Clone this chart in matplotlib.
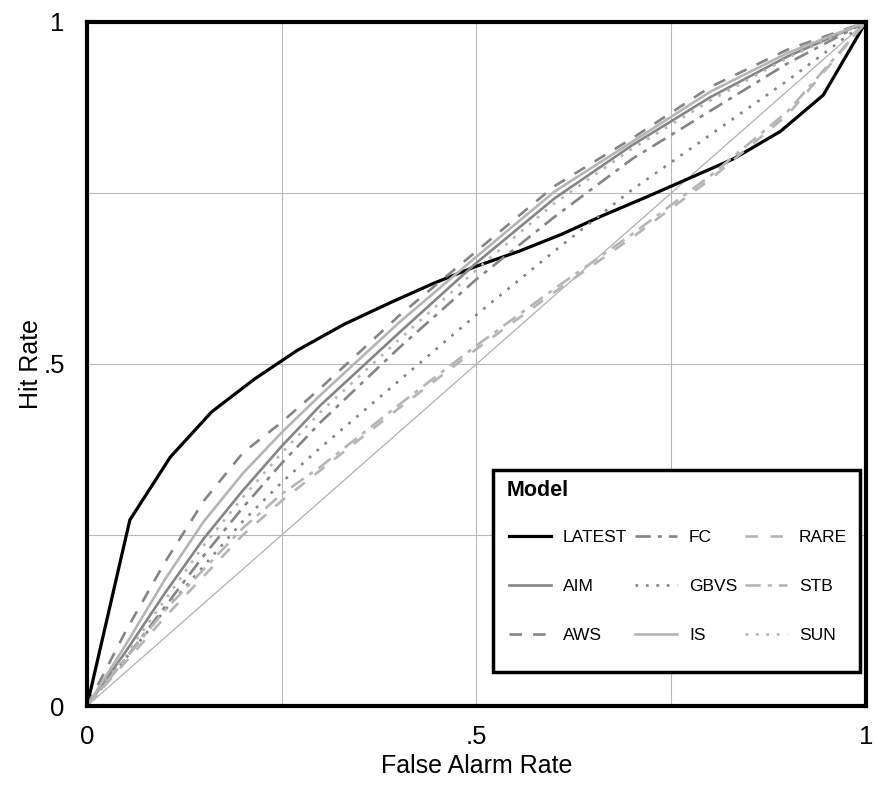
import matplotlib
matplotlib.use("Agg")
import matplotlib.pyplot as plt
from matplotlib.patches import Rectangle

plt.rcParams['font.family'] = ['Liberation Sans', 'DejaVu Sans']
plt.rcParams['lines.scale_dashes'] = False

# ---- data ----
fa_latest = [0, .055, .107, .16, .215, .27, .33, .39, .445, .5, .555, .61, .66, .72, .78, .83, .89, .945, 1]
hit_latest = [0, .272, .364, .43, .478, .52, .558, .59, .618, .643, .665, .69, .716, .745, .775, .80, .84, .893, 1]

fa = [0, .05, .1, .15, .2, .25, .3, .4, .5, .6, .7, .8, .9, 1]
hit_aim = [0, .08, .165, .245, .315, .38, .44, .545, .648, .742, .82, .89, .95, 1]
hit_aws = [0, .11, .21, .30, .37, .415, .465, .57, .665, .76, .83, .905, .96, 1]
hit_fc = [0, .07, .145, .22, .29, .355, .415, .523, .624, .715, .80, .87, .94, 1]
hit_gbvs = [0, .07, .14, .205, .27, .327, .378, .475, .572, .665, .755, .835, .915, 1]
hit_is = [0, .09, .185, .27, .34, .40, .455, .56, .657, .752, .825, .898, .955, 1]
hit_rare = [0, .065, .13, .19, .25, .30, .345, .435, .522, .605, .685, .77, .865, 1]
hit_stb = [0, .07, .14, .20, .26, .31, .35, .44, .527, .61, .69, .775, .87, 1]
hit_sun = [0, .075, .155, .235, .305, .37, .43, .535, .638, .735, .815, .885, .948, 1]

models = ['LATEST', 'AIM', 'AWS', 'FC', 'GBVS', 'IS', 'RARE', 'STB', 'SUN']

dark = '#000000'
mid = '#858585'
light = '#b5b5b5'

fig = plt.figure(figsize=(8.78, 7.88), dpi=100)
ax = fig.add_axes([87/878, 82/788, 779/878, 684/788])

# chance line
ax.plot([0, 1], [0, 1], color='#b0b0b0', lw=0.9, zorder=2)

lw = 1.9
series = [
    ('LATEST', fa_latest, hit_latest, dict(color=dark, lw=2.3, ls='-')),
    ('AIM', fa, hit_aim, dict(color=mid, lw=lw, ls='-')),
    ('AWS', fa, hit_aws, dict(color=mid, lw=lw, ls=(0, (9, 8)))),
    ('FC', fa, hit_fc, dict(color=mid, lw=lw, ls=(0, (11, 5, 3, 5)))),
    ('GBVS', fa, hit_gbvs, dict(color=mid, lw=lw, ls=(0, (2, 5.5)))),
    ('IS', fa, hit_is, dict(color=light, lw=lw, ls='-')),
    ('RARE', fa, hit_rare, dict(color=light, lw=lw, ls=(0, (9, 9)))),
    ('STB', fa, hit_stb, dict(color=light, lw=lw, ls=(0, (11, 5, 3, 5)))),
    ('SUN', fa, hit_sun, dict(color=light, lw=lw, ls=(0, (2, 5.5)))),
]
handles = []
for name, x, y, st in series:
    h, = ax.plot(x, y, label=name, zorder=3, **st)
    handles.append(h)

ax.set_xlim(0, 1)
ax.set_ylim(0, 1)
ax.set_xticks([0, .5, 1])
ax.set_xticklabels(['0', '.5', '1'])
ax.set_yticks([0, .5, 1])
ax.set_yticklabels(['0', '.5', '1'])
ax.set_xticks([.25, .75], minor=True)
ax.set_yticks([.25, .75], minor=True)
ax.grid(True, which='both', color='#b8b8b8', lw=0.8, zorder=1)
ax.tick_params(which='both', length=0)
ax.tick_params(axis='x', labelsize=18.5, pad=14)
ax.tick_params(axis='y', labelsize=18.5, pad=16)
for s in ax.spines.values():
    s.set_linewidth(3)
    s.set_color('black')
    s.set_zorder(5)

ax.set_xlabel('False Alarm Rate', fontsize=18, labelpad=3)
ax.set_ylabel('Hit Rate', fontsize=18, labelpad=0)

# legend frame and title
box = Rectangle((0.521, 0.0497), 0.471, 0.2953, transform=ax.transAxes,
                facecolor='white', edgecolor='black', lw=2.5, zorder=6)
ax.add_patch(box)
ax.text((507 - 87) / 779, (706 - 490) / 684, 'Model', transform=ax.transAxes,
        fontsize=15.5, fontweight='bold', ha='left', va='center', zorder=7)

leg = ax.legend(handles=handles, ncol=3, loc='upper left',
                bbox_to_anchor=(0.5417, 0.05, 0.434, 0.2073), mode='expand',
                fontsize=12.5, frameon=False, handlelength=2.4, handletextpad=0.7,
                labelspacing=1.95, borderpad=0, columnspacing=0.5,
                borderaxespad=0)
leg.set_zorder(8)

fig.savefig('out.png', dpi=100)
